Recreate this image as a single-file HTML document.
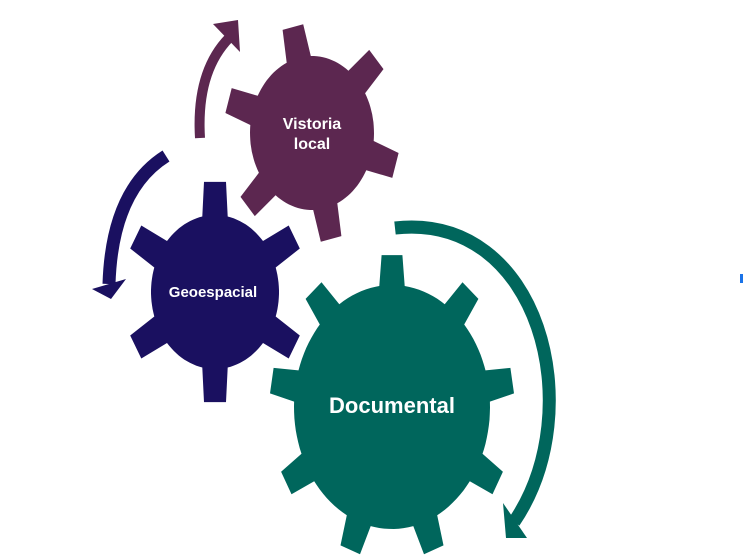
<!DOCTYPE html>
<html><head><meta charset="utf-8"><style>
html,body{margin:0;padding:0;background:#fff;width:743px;height:559px;overflow:hidden}
svg{display:block}
text{font-family:"Liberation Sans",sans-serif;font-weight:bold;fill:#fff;text-anchor:middle}
</style></head><body>
<svg id="s" width="743" height="559" viewBox="0 0 743 559">
<path d="M200,138 Q196,72 229,38" fill="none" stroke="#5c2750" stroke-width="10"/>
<polygon points="213,24 238,20 240,52" fill="#5c2750"/>
<path d="M166,156 Q112,190 109,284" fill="none" stroke="#1a1060" stroke-width="13"/>
<polygon points="92,289 126,279 111,299" fill="#1a1060"/>
<path d="M395,228 C540,212 590,410 514,522" fill="none" stroke="#00665c" stroke-width="13"/>
<polygon points="503,503 506,538 527,538" fill="#00665c"/>
<rect x="740" y="274" width="3" height="9" fill="#1a73e8"/>
<g id="gears"></g>
<text x="312" y="129" font-size="16">Vistoria</text>
<text x="312" y="149" font-size="16">local</text>
<text x="213" y="297" font-size="15">Geoespacial</text>
<text x="392" y="413" font-size="22">Documental</text>
</svg>
<script>
function gear(cx,cy,rx,ry,n,rot,outer,color,bw,tw){
  var pts=[],step=2*Math.PI/n;
  for(var i=0;i<n;i++){
    var a=rot+i*step;
    var seg=[[a-bw,1],[a-tw,outer],[a+tw,outer],[a+bw,1]];
    seg.forEach(function(p){pts.push([cx+rx*p[1]*Math.sin(p[0]),cy-ry*p[1]*Math.cos(p[0])]);});
    var a2=a+step-bw;
    for(var t=a+bw+0.05;t<a2;t+=0.05){pts.push([cx+rx*Math.sin(t),cy-ry*Math.cos(t)]);}
  }
  var d="M"+pts.map(function(p){return p[0].toFixed(1)+","+p[1].toFixed(1)}).join("L")+"Z";
  var e=document.createElementNS("http://www.w3.org/2000/svg","path");
  e.setAttribute("d",d);e.setAttribute("fill",color);
  document.getElementById("gears").appendChild(e);
}
gear(312,133,62,77,6,-0.22,1.42,"#5c2750",0.2,0.12);
gear(215,292,64,77,6,0,1.44,"#1a1060",0.2,0.12);
gear(392,407,98,122,9,0,1.25,"#00665c",0.13,0.085);
</script>
</body></html>
